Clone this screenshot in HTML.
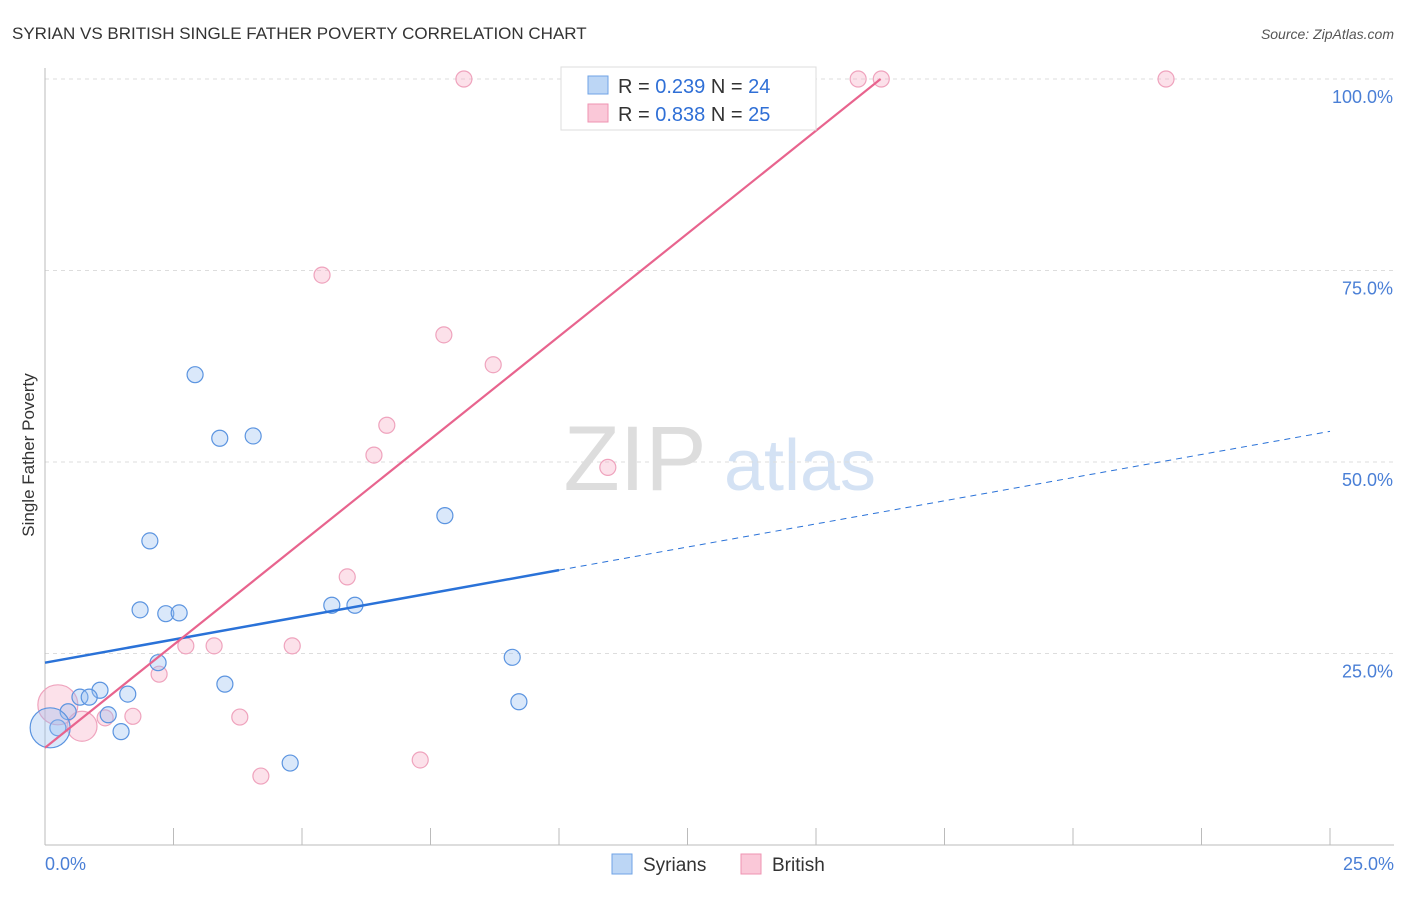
<!DOCTYPE html>
<html><head><meta charset="utf-8"><style>
body{margin:0;background:#fff;font-family:"Liberation Sans",sans-serif}
svg text{font-family:"Liberation Sans",sans-serif}
</style></head><body>
<svg id="c" width="1406" height="892">
<text x="12" y="39" font-size="17" fill="#333">SYRIAN VS BRITISH SINGLE FATHER POVERTY CORRELATION CHART</text>
<text x="1394" y="39" font-size="14" fill="#555" font-style="italic" text-anchor="end">Source: ZipAtlas.com</text>
<text transform="translate(34,455) rotate(-90)" font-size="17" fill="#333" text-anchor="middle">Single Father Poverty</text>
<g><text x="635" y="490" font-size="92" fill="#ddd" font-family="Liberation Serif" text-anchor="middle">ZIP</text><text x="800" y="490" font-size="72" fill="#d4e2f4" text-anchor="middle">atlas</text></g>
<g id="grid"></g><g id="axes"></g><g id="marks"></g>
<g>
<rect x="561" y="67" width="255" height="63" fill="#fff" stroke="#ddd"/>
<rect x="588" y="76" width="20" height="18" fill="#bcd6f5" stroke="#6fa3e6"/>
<text x="618" y="93" font-size="20" fill="#333">R = <tspan fill="#2f6fd6">0.239</tspan>   N = <tspan fill="#2f6fd6">24</tspan></text>
<rect x="588" y="104" width="20" height="18" fill="#fac8d8" stroke="#ef93b2"/>
<text x="618" y="121" font-size="20" fill="#333">R = <tspan fill="#2f6fd6">0.838</tspan>   N = <tspan fill="#2f6fd6">25</tspan></text>
</g>
<g>
<rect x="612" y="854" width="20" height="20" fill="#bcd6f5" stroke="#6fa3e6"/>
<text x="643" y="871" font-size="19" fill="#333">Syrians</text>
<rect x="741" y="854" width="20" height="20" fill="#fac8d8" stroke="#ef93b2"/>
<text x="772" y="871" font-size="19" fill="#333">British</text>
</g>
</svg>
<script>
const yTicks=[25,50,75,100];
const xTickLabels=["0.0%","25.0%"];
const syrX=[2.92,3.40,4.05,2.04,1.85,2.35,2.61,5.58,6.03,7.78,2.20,3.50,1.07,0.68,0.86,1.61,1.23,0.45,0.25,1.48,4.77,9.09,9.22,0.10];
const syrY=[61.4,53.1,53.4,39.7,30.7,30.2,30.3,31.3,31.3,43.0,23.8,21.0,20.2,19.3,19.3,19.7,17.0,17.4,15.3,14.8,10.7,24.5,18.7,15.3];
const syrR=[8,8,8,8,8,8,8,8,8,8,8,8,8,8,8,8,8,8,8,8,8,8,8,20];
const briX=[8.15,10.23,13.33,14.30,15.82,16.27,21.81,5.39,7.76,8.72,6.65,6.40,10.95,5.88,2.74,3.29,4.81,2.22,3.79,1.71,1.17,4.20,7.30,0.25,0.72];
const briY=[100,100,100,100,100,100,100,74.4,66.6,62.7,54.8,50.9,49.3,35.0,26.0,26.0,26.0,22.3,16.7,16.8,16.6,9.0,11.1,18.3,15.5];
const briR=[8,8,8,8,8,8,8,8,8,8,8,8,8,8,8,8,8,8,8,8,8,8,8,20,15];
const syrTrend=[23.8,54.0]; // y at x=0 and x=25
const briTrend=[12.7,5.37]; // intercept, slope
const X=v=>45+v/25*1285, Y=v=>845-v/100*766;
const NS="http://www.w3.org/2000/svg";
function mk(tag,attrs,parent){const e=document.createElementNS(NS,tag);for(const k in attrs)e.setAttribute(k,attrs[k]);document.getElementById(parent).appendChild(e);return e;}
yTicks.forEach(t=>{
 const l=mk('line',{x1:45,x2:1394,y1:Y(t),y2:Y(t),stroke:'#ddd','stroke-dasharray':'4,4'},'grid');
 
 
 const tx=mk('text',{x:1393,y:Y(t)+24,'font-size':18,fill:'#4a7fd6','text-anchor':'end'},'grid');
 tx.textContent=t.toFixed(1)+'%';
 
 
});
const ax=mk('line',{x1:45,x2:45,y1:68,y2:845,stroke:'#bbb'},'axes');


const bx=mk('line',{x1:45,x2:1394,y1:845,y2:845,stroke:'#bbb'},'axes');


for(let i=1;i<=10;i++){const t=mk('line',{x1:X(i*2.5),x2:X(i*2.5),y1:828,y2:845,stroke:'#bbb'},'axes');
 
 }
xTickLabels.forEach((s,i)=>{const t=mk('text',{x:i?1394:45,y:870,'font-size':18,fill:'#4a7fd6','text-anchor':i?'end':'start'},'axes');t.textContent=s;
 
 });
briX.forEach((x,i)=>{const c=mk('circle',{cx:X(x),cy:Y(briY[i]),r:briR[i],fill:'rgba(246,170,195,0.35)',stroke:'#efa3bd','stroke-width':1.2},'marks');
 
 });
syrX.forEach((x,i)=>{const c=mk('circle',{cx:X(x),cy:Y(syrY[i]),r:syrR[i],fill:'rgba(150,190,240,0.35)',stroke:'#5b94e0','stroke-width':1.2},'marks');
 
 });
const sy=x=>syrTrend[0]+(syrTrend[1]-syrTrend[0])*x/25;
const l1=mk('line',{x1:X(0),y1:Y(sy(0)),x2:X(10),y2:Y(sy(10)),stroke:'#2a72d8','stroke-width':2.5},'marks');


const l2=mk('line',{x1:X(10),y1:Y(sy(10)),x2:X(25),y2:Y(sy(25)),stroke:'#2a72d8','stroke-width':1,'stroke-dasharray':'6,5'},'marks');


const bxEnd=(100-briTrend[0])/briTrend[1];
const l3=mk('line',{x1:X(0),y1:Y(briTrend[0]),x2:X(bxEnd),y2:Y(100),stroke:'#e8648e','stroke-width':2.2},'marks');


</script>
</body></html>
